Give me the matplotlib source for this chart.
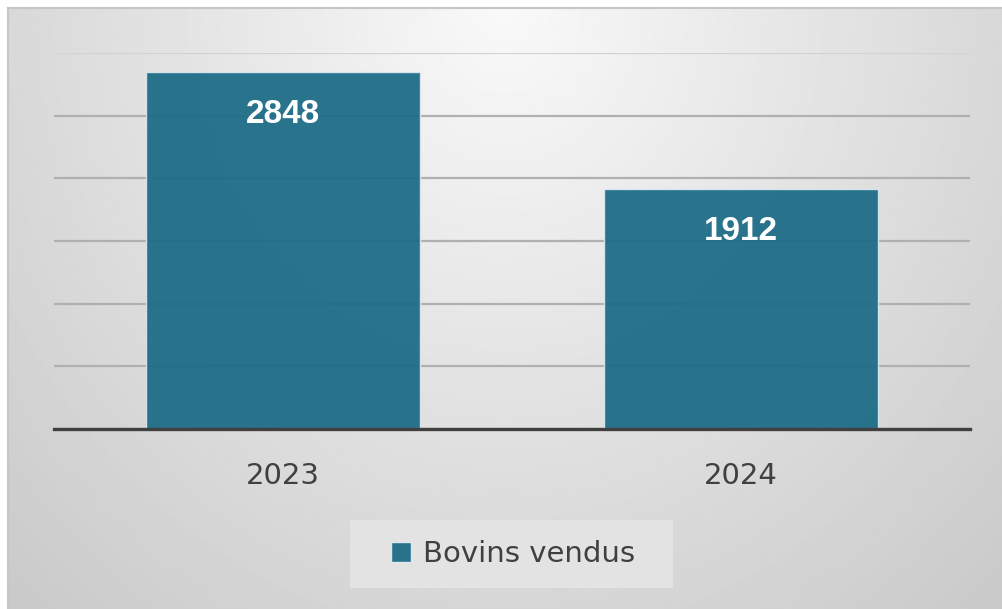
import numpy as np
import matplotlib
matplotlib.use("Agg")
import matplotlib.pyplot as plt
from matplotlib.patches import Rectangle, Patch

annees = ["2023", "2024"]
bovins = [2848, 1912]
serie = "Bovins vendus"

W, H = 1002, 609
fig = plt.figure(figsize=(W / 100, H / 100), dpi=100)
fig.patch.set_facecolor("white")

# fond en degrade radial (clair en haut au centre, gris sur les bords)
bg = fig.add_axes([8 / W, 0, 1 - 8 / W, 1 - 8 / H])
yy, xx = np.mgrid[0:1:300j, 0:1:500j]
r = np.sqrt(((xx - 0.5) / 0.536) ** 2 + (yy / 1.0) ** 2)
grad = np.clip(249 - 35 * r, 200, 249) / 255.0
bg.imshow(grad, cmap="gray", vmin=0, vmax=1, aspect="auto", extent=[0, 1, 1, 0])
bg.set_xticks([])
bg.set_yticks([])
for s in ["right", "bottom"]:
    bg.spines[s].set_visible(False)
for s in ["top", "left"]:
    bg.spines[s].set_color("#c6c6c6")
    bg.spines[s].set_linewidth(1.5)

ax = fig.add_axes([54 / W, 180 / H, (970 - 54) / W, (556 - 180) / H])
ax.patch.set_alpha(0)
x = np.arange(len(annees))
bars = ax.bar(x, bovins, width=0.6, color="#1a6a86", alpha=0.93,
              edgecolor="#dce8ee", linewidth=1, zorder=3)
ax.set_xlim(-0.5, len(annees) - 0.5)
ax.set_ylim(0, 3000)
ax.set_yticks(np.arange(0, 3001, 500))
ax.yaxis.grid(True, color="#b0b0b0", linewidth=1.6, zorder=1)
ax.get_ygridlines()[-1].set_color("#d2d2d2")
ax.tick_params(axis="y", left=False, labelleft=False)
ax.set_xticks(x)
ax.set_xticklabels(annees, fontsize=21, color="#404040", family="DejaVu Sans")
ax.tick_params(axis="x", length=0, pad=24)
for s in ["top", "right", "left"]:
    ax.spines[s].set_visible(False)
ax.spines["bottom"].set_color("#404040")
ax.spines["bottom"].set_linewidth(2.4)
ax.spines["bottom"].set_zorder(4)

for b, v in zip(bars, bovins):
    ax.annotate(str(v), (b.get_x() + b.get_width() / 2, v), xytext=(0, -42),
                textcoords="offset pixels", ha="center", va="center",
                color="white", fontsize=24, fontweight="bold",
                family="Liberation Sans", zorder=5)

# legende dans un cadre plus clair
fig.patches.append(Rectangle((350 / W, (H - 588) / H), 323 / W, 68 / H,
                             transform=fig.transFigure, facecolor="#e3e3e3",
                             edgecolor="none", zorder=0))
leg = fig.legend(handles=[Patch(facecolor="#29728c", edgecolor="#dce8ee", label=serie)],
                 loc="center", bbox_to_anchor=(513 / W, (H - 554) / H),
                 frameon=False, fontsize=21, handlelength=0.7, handleheight=0.7,
                 handletextpad=0.4)
for t in leg.get_texts():
    t.set_color("#404040")

fig.savefig("out.png", dpi=100)
